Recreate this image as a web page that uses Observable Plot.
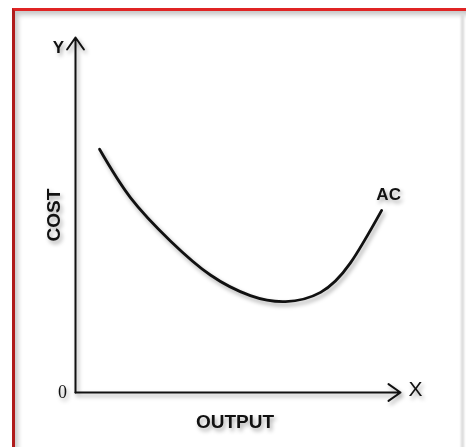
<!DOCTYPE html>
<html>
<head>
<meta charset="utf-8">
<script src="https://cdn.jsdelivr.net/npm/d3@7"></script>
<script src="https://cdn.jsdelivr.net/npm/@observablehq/plot@0.6"></script>
<style>
  html, body { margin: 0; padding: 0; background: #fff; width: 466px; height: 447px; overflow: hidden; }
  #frame { position: absolute; left: 12px; top: 8px; width: 470px; height: 460px;
           border-top: 3px solid #e02424; border-left: 3px solid #b01c1c;
           box-shadow: inset 3px 4px 5px rgba(0,0,0,0.22); }
  #rightedge { position: absolute; left: 461px; top: 14px; width: 3px; height: 440px;
               background: #d8d8d8; filter: blur(1px); }
  #chart { position: absolute; left: 0; top: 0; }
  #chart svg { filter: drop-shadow(2px 3px 2px rgba(0,0,0,0.35)); }
</style>
</head>
<body>
<div id="frame"></div>
<div id="rightedge"></div>
<div id="chart"></div>
<script>
// Axis extents (arbitrary units)
const outputDomain = [0, 10];
const costDomain = [0, 10];

// AC curve
const output = [0.74, 1.69, 2.92, 4.15, 5.38, 6.46, 7.54, 8.46, 9.42];
const cost   = [6.85, 5.49, 4.27, 3.31, 2.73, 2.56, 2.82, 3.65, 5.13];

// Text labels
const axisTitles = ["OUTPUT", "COST"];
const axisEndLabels = ["X", "Y", "0"];
const curveLabels = ["AC"];

const acData = output.map((x, i) => ({output: x, cost: cost[i]}));
const font = "'Liberation Sans', Arial, sans-serif";

const chart = Plot.plot({
  width: 466,
  height: 447,
  margin: 0,
  style: {background: "transparent", overflow: "visible", color: "#111"},
  x: {domain: outputDomain, range: [75, 400], axis: null},
  y: {domain: costDomain, range: [392, 37], axis: null},
  marks: [
    // X axis arrow
    Plot.arrow([outputDomain], {x1: d => d[0], y1: () => costDomain[0], x2: d => d[1], y2: () => costDomain[0],
      stroke: "#111", strokeWidth: 2, headLength: 11, headAngle: 70}),
    // Y axis arrow
    Plot.arrow([costDomain], {x1: () => outputDomain[0], y1: d => d[0], x2: () => outputDomain[0], y2: d => d[1],
      stroke: "#111", strokeWidth: 2, headLength: 11, headAngle: 70}),
    // AC curve
    Plot.line(acData, {x: "output", y: "cost", curve: "natural", stroke: "#111", strokeWidth: 2.8}),
    // Curve label
    Plot.text(curveLabels, {x: () => output[output.length - 1], y: () => cost[cost.length - 1], text: d => d,
      dx: 7, dy: -16, fontSize: 17, fontWeight: "bold", fontFamily: font, fill: "#111"}),
    // Axis titles
    Plot.text([axisTitles[0]], {x: () => (outputDomain[0] + outputDomain[1]) / 2, y: () => costDomain[0], text: d => d,
      dy: 29, dx: -3, fontSize: 19, fontWeight: "bold", fontFamily: font, fill: "#111"}),
    Plot.text([axisTitles[1]], {x: () => outputDomain[0], y: () => (costDomain[0] + costDomain[1]) / 2, text: d => d,
      dx: -22, dy: 0, rotate: -90, fontSize: 19, fontWeight: "bold", fontFamily: font, fill: "#111",
      letterSpacing: "3px"}),
    // Axis end labels
    Plot.text([axisEndLabels[0]], {x: () => outputDomain[1], y: () => costDomain[0], text: d => d,
      dx: 15, dy: -3, fontSize: 21, fontFamily: font, fill: "#111"}),
    Plot.text([axisEndLabels[1]], {x: () => outputDomain[0], y: () => costDomain[1], text: d => d,
      dx: -17, dy: 10, fontSize: 17, fontWeight: "bold", fontFamily: font, fill: "#111"}),
    Plot.text([axisEndLabels[2]], {x: () => outputDomain[0], y: () => costDomain[0], text: d => d,
      dx: -13, dy: 0, fontSize: 18, fontFamily: "'Liberation Serif', serif", fill: "#111"})
  ]
});
document.getElementById("chart").appendChild(chart);
</script>
</body>
</html>
